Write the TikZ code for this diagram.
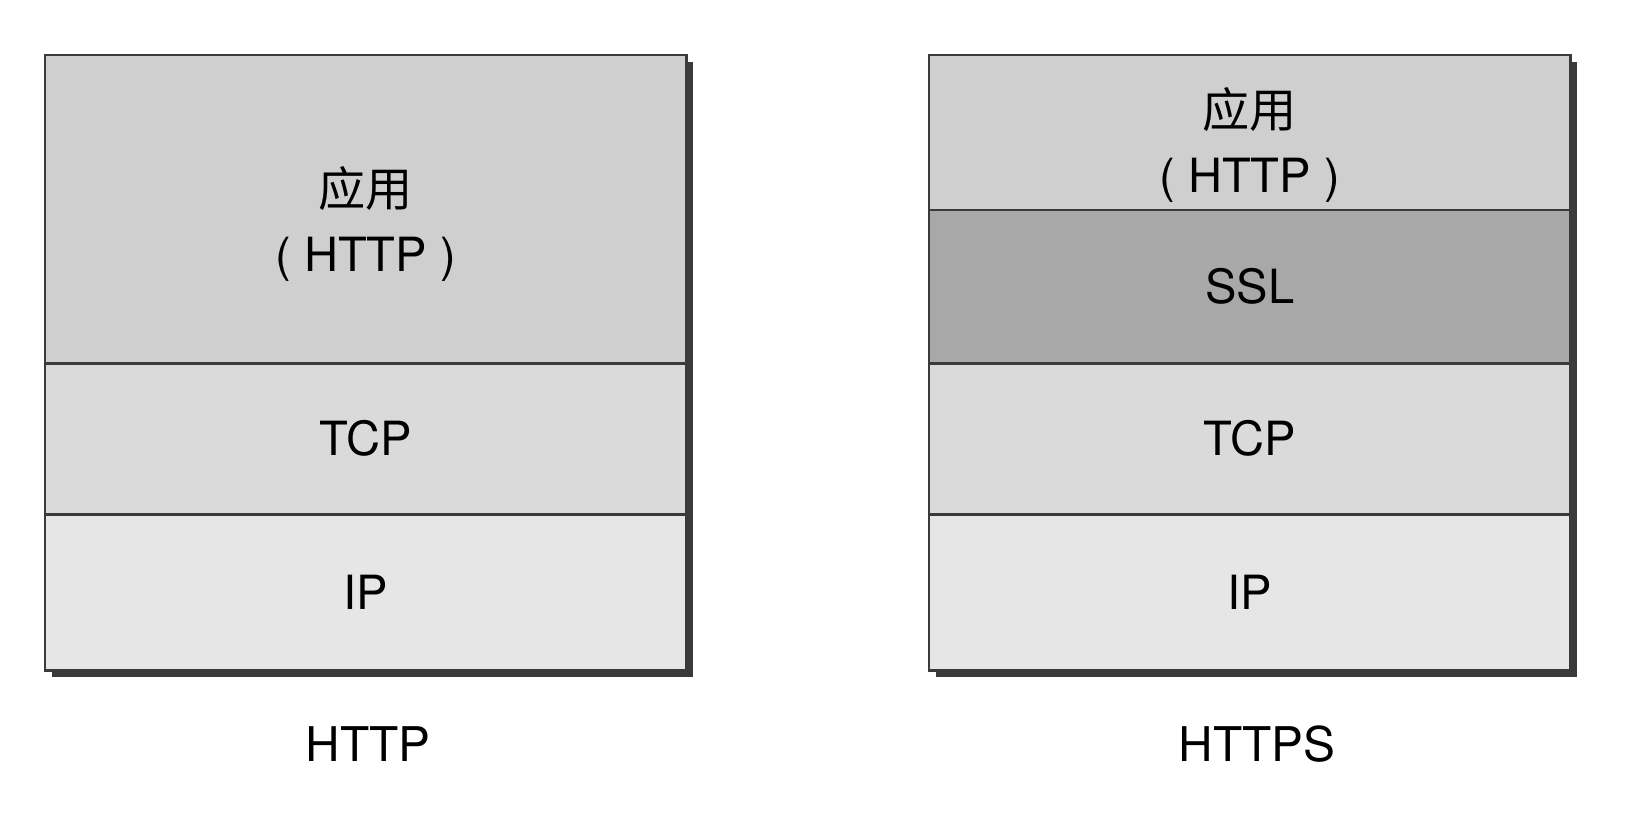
\documentclass[tikz,border=0pt]{standalone}
\usepackage{fontspec}
\setmainfont{TeX Gyre Heros}
\newfontfamily\cjk{Noto Sans CJK SC}
\usetikzlibrary{positioning}
\usetikzlibrary{backgrounds}
\definecolor{appgray}{HTML}{CFCFCF}
\definecolor{sslgray}{HTML}{A8A8A8}
\definecolor{tcpgray}{HTML}{DADADA}
\definecolor{ipgray}{HTML}{E6E6E6}
\definecolor{edgegray}{HTML}{3A3A3A}
\tikzset {
  node distance={0pt},
  % one layer of a protocol stack
  layer/.style = {draw=edgegray, line width=0.8pt, outer sep=0pt, inner sep=0pt,
    minimum width=6.41cm, align=center, font=\fontsize{13.4}{18.5}\selectfont},
  app/.style={layer, fill=appgray},
  ssl/.style={layer, fill=sslgray},
  tcp/.style={layer, fill=tcpgray, minimum height=1.51cm},
  ip/.style={layer, fill=ipgray, minimum height=1.56cm},
  % text of the application layer, a bit below the middle
  apptext/.style={align=center, font=\fontsize{13.4}{18.5}\selectfont},
  % shadow behind each stack
  shade/.style={fill=edgegray},
  caption/.style={font=\fontsize{13.6}{18.5}\selectfont},
}

\begin{document}
\begin{tikzpicture}[x=0.01cm, y=-0.01cm]
      \useasboundingbox (0,0) rectangle (1648,824);

      % HTTP
      \node[app, minimum height=3.08cm, anchor=north west] (h1) at (45, 55) {};
      \node[tcp, below=of h1] (h2) {TCP};
      \node[ip, below=of h2] (h3) {IP};
      \node[apptext] (h1t) at ([shift={(0,15)}]h1.center) {{\cjk 应用}\\( HTTP )};

      % HTTPS
      \node[app, minimum height=1.55cm, anchor=north west] (s1) at (929, 55) {};
      \node[ssl, minimum height=1.53cm, below=of s1] (s2) {SSL};
      \node[tcp, below=of s2] (s3) {TCP};
      \node[ip, below=of s3] (s4) {IP};
      \node[apptext] (s1t) at ([shift={(0,12)}]s1.center) {{\cjk 应用}\\( HTTP )};

      \begin{scope}[on background layer]
        \fill[shade] ([shift={(7,7)}]h1.north west) rectangle ([shift={(7,7)}]h3.south east);
        \fill[shade] ([shift={(7,7)}]s1.north west) rectangle ([shift={(7,7)}]s4.south east);
      \end{scope}

      \node[caption] (l1) at (368, 744) {HTTP};
      \node[caption] (l2) at (1257, 744) {HTTPS};
    \end{tikzpicture}
\end{document}
